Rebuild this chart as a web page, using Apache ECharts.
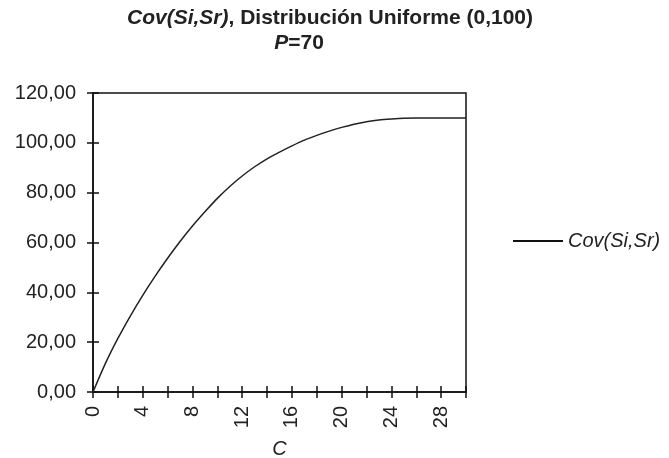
<!DOCTYPE html>
<html>
<head>
<meta charset="utf-8">
<script src="https://cdn.jsdelivr.net/npm/echarts@6/dist/echarts.min.js"></script>
<style>html,body{margin:0;padding:0;background:#fff;}#c{width:669px;height:458px;}</style>
</head>
<body>
<div id="c"></div>
<script>
var cValues = [0,1,2,3,4,5,6,7,8,9,10,11,12,13,14,15,16,17,18,19,20,21,22,23,24,25,26,27,28,29,30];
var covValues = [0,11.5,21.5,30.5,38.8,46.5,53.7,60.4,66.6,72.3,77.7,82.5,86.7,90.4,93.6,96.3,98.8,101.1,103.0,104.7,106.2,107.5,108.5,109.2,109.6,109.9,110,110,110,110,110];
var seriesName = 'Cov(Si,Sr)';
var xAxisName = 'C';
var titleLine1 = '{i|Cov(Si,Sr)}, Distribución Uniforme (0,100)';
var titleLine2 = '{i|P}=70';

var FONT = 'Arial, "Liberation Sans", sans-serif';
var data = cValues.map(function (c, i) { return [c, covValues[i]]; });
var chart = echarts.init(document.getElementById('c'));
var yFmt = function (v) { return v.toFixed(2).replace('.', ','); };
var richI = { i: { fontStyle: 'italic', fontWeight: 'bold', fontFamily: FONT, fontSize: 21, fill: '#222' } };
chart.setOption({
  animation: false,
  backgroundColor: '#fff',
  graphic: [
    { type: 'text', x: 330, y: 8, style: { text: titleLine1, align: 'center', fontFamily: FONT, fontSize: 21, fontWeight: 'bold', fill: '#222', rich: richI } },
    { type: 'text', x: 299, y: 33, style: { text: titleLine2, align: 'center', fontFamily: FONT, fontSize: 21, fontWeight: 'bold', fill: '#222', rich: richI } }
  ],
  legend: {
    left: 513, top: 231, padding: 0,
    itemWidth: 50, itemHeight: 2, itemGap: 6,
    icon: 'rect',
    data: [{ name: seriesName, itemStyle: { color: '#111' } }],
    textStyle: { fontFamily: FONT, fontSize: 20, fontStyle: 'italic', color: '#222' }
  },
  grid: { left: 93, right: 203, top: 93, bottom: 66, containLabel: false, outerBoundsMode: 'none', show: true, borderColor: '#111', borderWidth: 1.5, backgroundColor: 'transparent' },
  xAxis: [
    {
      type: 'value', min: 0, max: 30, interval: 2,
      name: xAxisName, nameLocation: 'middle', nameGap: 47,
      nameTextStyle: { fontFamily: FONT, fontSize: 20, fontStyle: 'italic', color: '#222' },
      axisLine: { show: true, lineStyle: { color: '#111', width: 1.5 } },
      axisTick: { show: true, length: 6, lineStyle: { color: '#111', width: 1.5 } },
      axisLabel: { rotate: 90, margin: 14, fontFamily: FONT, fontSize: 20, color: '#222',
        formatter: function (v) { return v % 4 === 0 ? String(v) : ''; } },
      splitLine: { show: false }
    },
    {
      type: 'value', min: 0, max: 30, interval: 2, position: 'bottom', offset: 0,
      axisLine: { show: false },
      axisTick: { show: true, inside: true, length: 6, lineStyle: { color: '#111', width: 1.5 } },
      axisLabel: { show: false }, splitLine: { show: false }
    }
  ],
  yAxis: [
    {
      type: 'value', min: 0, max: 120, interval: 20,
      axisLine: { show: true, lineStyle: { color: '#111', width: 1.5 } },
      axisTick: { show: true, length: 6, lineStyle: { color: '#111', width: 1.5 } },
      axisLabel: { margin: 17, fontFamily: FONT, fontSize: 20, color: '#222', formatter: yFmt },
      splitLine: { show: false }
    },
    {
      type: 'value', min: 0, max: 120, interval: 20, position: 'left', offset: 0,
      axisLine: { show: false },
      axisTick: { show: true, inside: true, length: 6, lineStyle: { color: '#111', width: 1.5 } },
      axisLabel: { show: false }, splitLine: { show: false }
    }
  ],
  series: [{
    name: seriesName, type: 'line', xAxisIndex: 0, yAxisIndex: 0,
    data: data, showSymbol: false, symbol: 'none', smooth: 0.25,
    lineStyle: { color: '#222', width: 1.5 }, itemStyle: { color: '#111' }
  }]
});
</script>
</body>
</html>
